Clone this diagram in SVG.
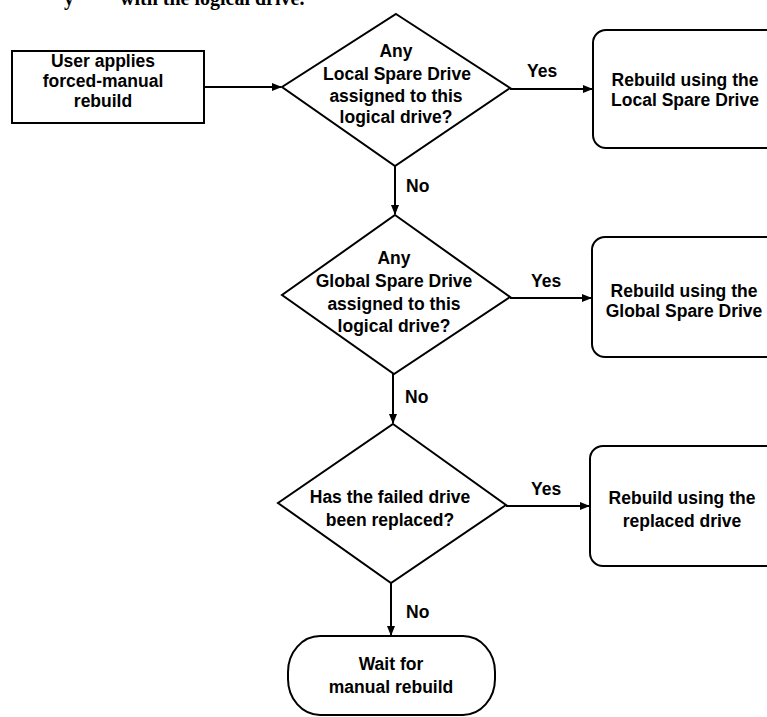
<svg xmlns="http://www.w3.org/2000/svg" width="767" height="717" viewBox="0 0 767 717">
<style>
.s{fill:#fff;stroke:#000;stroke-width:2}
.t{font-family:"Liberation Sans",Arial,sans-serif;font-weight:bold;font-size:17.5px;fill:#000;text-anchor:middle}
.l{font-family:"Liberation Sans",Arial,sans-serif;font-weight:bold;font-size:17.5px;fill:#000}
.c{fill:none;stroke:#000;stroke-width:2}
</style>
<defs>
<marker id="a" markerWidth="10" markerHeight="8" refX="9" refY="4" orient="auto" markerUnits="userSpaceOnUse">
<path d="M0,0 L10,4 L0,8 z" fill="#000"/>
</marker>
</defs>
<rect width="767" height="717" fill="#fff"/>
<text x="64" y="5" font-family="Liberation Serif,serif" font-weight="bold" font-size="20">y</text>
<text x="120" y="5" font-family="Liberation Serif,serif" font-weight="bold" font-size="20">with the logical drive.</text>
<g id="connectors">
<line class="c" x1="204" y1="87" x2="281" y2="87" marker-end="url(#a)"/>
<line class="c" x1="510" y1="89" x2="592" y2="89" marker-end="url(#a)"/>
<line class="c" x1="395" y1="166" x2="395" y2="214" marker-end="url(#a)"/>
<line class="c" x1="510" y1="298" x2="591" y2="298" marker-end="url(#a)"/>
<line class="c" x1="393" y1="374" x2="393" y2="423" marker-end="url(#a)"/>
<line class="c" x1="506" y1="506" x2="589" y2="506" marker-end="url(#a)"/>
<line class="c" x1="391" y1="583" x2="391" y2="635" marker-end="url(#a)"/>
<text class="l" x="527" y="77">Yes</text>
<text class="l" x="406" y="192">No</text>
<text class="l" x="531" y="287">Yes</text>
<text class="l" x="405" y="403">No</text>
<text class="l" x="531" y="495">Yes</text>
<text class="l" x="406" y="618">No</text>
</g>
<g id="start">
<rect class="s" x="12" y="51" width="192" height="72"/>
<text class="t" x="103" y="67">User applies</text>
<text class="t" x="103" y="87">forced-manual</text>
<text class="t" x="103" y="107">rebuild</text>
</g>
<g id="d1">
<polygon class="s" points="396,14 510,88 395,166 282,87"/>
<text class="t" x="396" y="57">Any</text>
<text class="t" x="397" y="80">Local Spare Drive</text>
<text class="t" x="396" y="102">assigned to this</text>
<text class="t" x="396" y="123">logical drive?</text>
</g>
<g id="r1">
<rect class="s" x="593" y="30" width="190" height="118" rx="13"/>
<text class="t" x="685" y="86">Rebuild using the</text>
<text class="t" x="685" y="106">Local Spare Drive</text>
</g>
<g id="d2">
<polygon class="s" points="395,215 510,297 394,374 282,295"/>
<text class="t" x="394" y="264">Any</text>
<text class="t" x="394" y="287">Global Spare Drive</text>
<text class="t" x="394" y="310">assigned to this</text>
<text class="t" x="394" y="332">logical drive?</text>
</g>
<g id="r2">
<rect class="s" x="592" y="237" width="190" height="120" rx="13"/>
<text class="t" x="684" y="297">Rebuild using the</text>
<text class="t" x="684" y="317">Global Spare Drive</text>
</g>
<g id="d3">
<polygon class="s" points="393,424 506,505 391,583 278,503"/>
<text class="t" x="390" y="503">Has the failed drive</text>
<text class="t" x="390" y="526">been replaced?</text>
</g>
<g id="r3">
<rect class="s" x="590" y="446" width="190" height="120" rx="13"/>
<text class="t" x="682" y="504">Rebuild using the</text>
<text class="t" x="682" y="527">replaced drive</text>
</g>
<g id="end">
<rect class="s" x="288" y="636" width="207" height="79" rx="32" ry="36"/>
<text class="t" x="391" y="670">Wait for</text>
<text class="t" x="391" y="693">manual rebuild</text>
</g>
</svg>
